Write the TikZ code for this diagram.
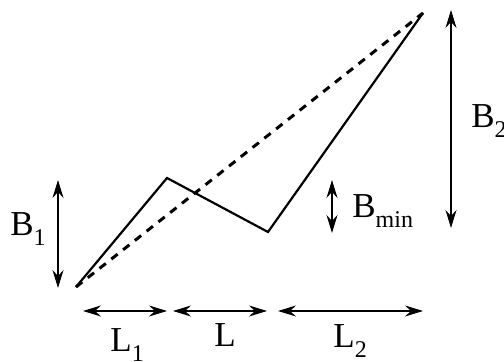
\documentclass[tikz,border=0pt]{standalone}
\usepackage{fontspec}
\setmainfont{Liberation Serif}
\usetikzlibrary{arrows.meta}
\newcommand\lbl[2]{\fontsize{17.5}{19}\selectfont #1\raisebox{-5pt}{\fontsize{12}{13}\selectfont #2}}
\begin{document}
\begin{tikzpicture}[x=0.5pt,y=-0.5pt,
  profile/.style={line width=1.1pt, line join=miter},
  straight/.style={line width=1.5pt, dash pattern=on 4pt off 3.5pt},
  dim/.style={line width=0.55pt, {Stealth[length=9pt,width=5.5pt,inset=3pt]}-{Stealth[length=9pt,width=5.5pt,inset=3pt]}},
  txt/.style={inner sep=0pt, anchor=base west}]
\useasboundingbox (0,0) rectangle (504,362);
% profile points
\coordinate (s) at (76,287);
\coordinate (p) at (167,178);
\coordinate (v) at (268,232);
\coordinate (e) at (423,13);
\draw[profile] (s) -- (p) -- (v) -- (e);
\draw[straight] (s) -- (e);
% dimension end points
\coordinate (b1t) at (58,180);
\coordinate (b1b) at (58,288);
\coordinate (bmt) at (332,180);
\coordinate (bmb) at (332,233);
\coordinate (b2t) at (451,10);
\coordinate (b2b) at (451,228);
\coordinate (l1a) at (83,311);
\coordinate (l1b) at (167,311);
\coordinate (la) at (173,311);
\coordinate (lb) at (267,311);
\coordinate (l2a) at (278,311);
\coordinate (l2b) at (423,311);
\draw[dim] (b1t) -- (b1b);
\draw[dim] (bmt) -- (bmb);
\draw[dim] (b2t) -- (b2b);
\draw[dim] (l1a) -- (l1b);
\draw[dim] (la) -- (lb);
\draw[dim] (l2a) -- (l2b);
% labels
\node[txt] (tb1) at (10,236) {\lbl{B}{1}};
\node[txt] (tl1) at (110,352) {\lbl{L}{1}};
\node[txt] (tl) at (214,347) {\lbl{L}{}};
\node[txt] (tl2) at (333,348) {\lbl{L}{2}};
\node[txt] (tbm) at (352,218) {\lbl{B}{min}};
\node[txt] (tb2) at (471,128) {\lbl{B}{2}};
\end{tikzpicture}
\end{document}
